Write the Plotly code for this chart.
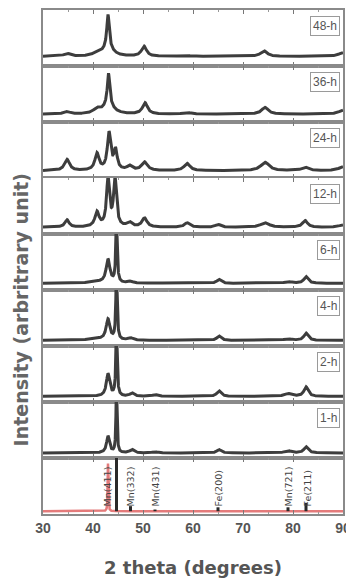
import numpy as np
import plotly.graph_objects as go
from plotly.subplots import make_subplots

# ---------------- data ----------------
x_range = [30, 90]
x_ticks = [30, 40, 50, 60, 70, 80, 90]

panel_labels = ["48-h", "36-h", "24-h", "12-h", "6-h", "4-h", "2-h", "1-h"]
baselines = [0.17, 0.14, 0.13, 0.12, 0.12, 0.10, 0.10, 0.09]

# peaks: (2-theta, height above baseline, half width) as fraction of panel height
peaks_48h = [(34.8, 0.05, 0.8), (40.8, 0.05, 1.0), (43.0, 0.58, 0.28), (43.0, 0.16, 1.2),
             (50.2, 0.18, 0.6), (58.5, 0.02, 1.0), (74.2, 0.10, 0.8), (90.0, 0.07, 1.0)]
peaks_36h = [(34.8, 0.04, 0.8), (40.8, 0.08, 0.8), (43.1, 0.55, 0.28), (43.1, 0.17, 1.2),
             (50.4, 0.20, 0.6), (58.8, 0.03, 0.8), (74.4, 0.12, 0.8), (90.0, 0.07, 1.0)]
peaks_24h = [(34.8, 0.20, 0.6), (40.8, 0.30, 0.5), (43.2, 0.66, 0.4), (44.5, 0.35, 0.4),
             (47.3, 0.08, 0.6), (50.3, 0.15, 0.7), (58.8, 0.13, 0.7), (74.4, 0.15, 1.0),
             (82.4, 0.06, 0.8), (90.0, 0.07, 1.0)]
peaks_12h = [(34.8, 0.13, 0.5), (40.8, 0.26, 0.5), (43.0, 0.85, 0.35), (44.4, 0.85, 0.35),
             (47.3, 0.08, 0.6), (50.3, 0.16, 0.6), (58.8, 0.08, 0.6), (65.0, 0.05, 0.6),
             (74.4, 0.08, 1.0), (82.4, 0.12, 0.6), (90.0, 0.04, 1.0)]
peaks_6h = [(40.5, 0.03, 1.5), (43.0, 0.42, 0.45), (44.7, 1.30, 0.15), (47.5, 0.03, 0.6),
            (52.4, 0.015, 0.6), (65.2, 0.07, 0.5), (79.0, 0.03, 0.8), (82.6, 0.12, 0.5)]
peaks_4h = [(40.5, 0.03, 1.5), (43.0, 0.37, 0.45), (44.7, 1.30, 0.15), (47.5, 0.04, 0.6),
            (65.2, 0.08, 0.5), (79.0, 0.03, 0.8), (82.6, 0.13, 0.5)]
peaks_2h = [(35.0, 0.01, 1.0), (43.0, 0.40, 0.40), (44.7, 1.30, 0.15), (47.8, 0.06, 0.5),
            (52.4, 0.03, 0.6), (65.2, 0.10, 0.5), (79.0, 0.05, 0.8), (82.6, 0.17, 0.5)]
peaks_1h = [(43.0, 0.30, 0.35), (44.7, 1.30, 0.12), (47.8, 0.06, 0.5), (52.4, 0.02, 0.6),
            (65.2, 0.06, 0.5), (79.0, 0.04, 0.8), (82.6, 0.11, 0.5)]
panel_peaks = [peaks_48h, peaks_36h, peaks_24h, peaks_12h,
               peaks_6h, peaks_4h, peaks_2h, peaks_1h]

# reference panel
red_baseline = 0.05
red_peaks = [(43.0, 0.85, 0.07), (77.0, 0.012, 2.0)]
stick_base = 0.05
stick_pos = [44.7, 47.5, 52.4, 65.0, 79.0, 82.6]
stick_hgt = [1.05, 0.14, 0.08, 0.12, 0.12, 0.20]
stick_lbl_pos = [42.8, 47.4, 52.4, 65.0, 79.0, 82.8]
stick_labels = ["Mn(411)", "Mn(332)", "Mn(431)", "Fe(200)", "Mn(721)", "Fe(211)"]

# ---------------- figure ----------------
two_theta = np.arange(30, 90.0001, 0.02)


def profile(base, peaks):
    y = np.full_like(two_theta, base)
    for p, h, w in peaks:
        y = y + h * w * w / ((two_theta - p) ** 2 + w * w)
    return y


n_rows = 9
fig = make_subplots(rows=n_rows, cols=1, shared_xaxes=True, vertical_spacing=0)

line_col = "#3d3d3d"
frame_col = "#8a8a8a"
text_col = "#555555"

for i, (lbl, base, pk) in enumerate(zip(panel_labels, baselines, panel_peaks)):
    fig.add_trace(go.Scatter(x=two_theta, y=profile(base, pk), mode="lines",
                             line=dict(color=line_col, width=3), showlegend=False,
                             hoverinfo="skip"), row=i + 1, col=1)
    ax = "" if i == 0 else str(i + 1)
    fig.add_annotation(text=lbl, xref=f"x{ax} domain", yref=f"y{ax} domain",
                       x=0.99, y=0.9, xanchor="right", yanchor="top", showarrow=False,
                       font=dict(family="Liberation Sans", size=12, color=text_col),
                       bordercolor="#9a9a9a", borderwidth=1, borderpad=2, bgcolor="white")

# reference panel
fig.add_trace(go.Scatter(x=two_theta, y=profile(red_baseline, red_peaks), mode="lines",
                         line=dict(color="#e47b7b", width=2.5), showlegend=False,
                         hoverinfo="skip"), row=n_rows, col=1)
sx, sy = [], []
for p, h in zip(stick_pos, stick_hgt):
    sx += [p, p, None]
    sy += [stick_base, h, None]
fig.add_trace(go.Scatter(x=sx, y=sy, mode="lines", line=dict(color="#2a2a2a", width=3),
                         showlegend=False, hoverinfo="skip"), row=n_rows, col=1)
for p, t in zip(stick_lbl_pos, stick_labels):
    fig.add_annotation(text=t, x=p, y=0.1, xref=f"x{n_rows}", yref=f"y{n_rows}",
                       textangle=-90, xanchor="center", yanchor="bottom", showarrow=False,
                       font=dict(family="DejaVu Sans", size=9.5, color="#444444"))

for r in range(1, n_rows + 1):
    fig.update_xaxes(range=x_range, tickvals=x_ticks, ticks="inside", ticklen=4,
                     tickwidth=1, tickcolor="#777777", showline=True, mirror="ticks",
                     linecolor=frame_col, linewidth=1.5, showgrid=False, zeroline=False,
                     minor=dict(ticks="inside", dtick=5, tick0=30, ticklen=2,
                                tickcolor="#999999"),
                     showticklabels=(r == n_rows), row=r, col=1)
    fig.update_yaxes(range=[0, 1], showticklabels=False, ticks="", showline=True,
                     mirror=True, linecolor=frame_col, linewidth=1.5, showgrid=False,
                     zeroline=False, row=r, col=1)

fig.update_xaxes(tickfont=dict(family="Liberation Sans", size=14, color=text_col,
                               weight="bold"), row=n_rows, col=1)

# page body has an 8px margin: figure is sized / offset to compensate
fig.add_annotation(text="2 theta (degrees)", xref="paper", yref="paper", x=0.5, y=-0.107,
                   xanchor="center", yanchor="middle", showarrow=False,
                   font=dict(family="DejaVu Sans", size=18, color=text_col, weight="bold"))
fig.add_annotation(text="Intensity (arbritrary unit)", xref="paper", yref="paper",
                   x=-0.075, y=0.405, xanchor="center", yanchor="middle", showarrow=False,
                   textangle=-90,
                   font=dict(family="DejaVu Sans", size=19, color="#666666", weight="bold"))

fig.update_layout(width=346, height=578, margin=dict(l=35, r=11, t=0, b=72),
                  paper_bgcolor="white", plot_bgcolor="white", showlegend=False)

fig.write_html("out.html")
